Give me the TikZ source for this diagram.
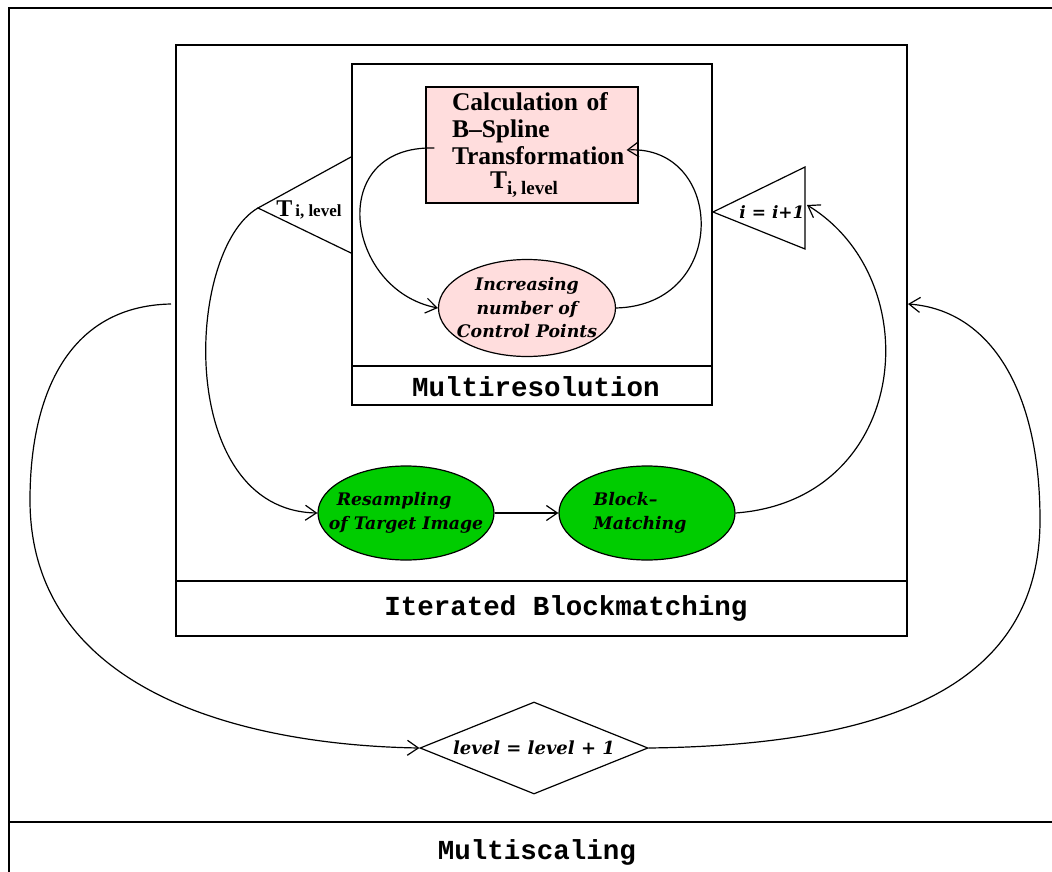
\documentclass[tikz,border=0pt]{standalone}
\usepackage{fontspec}
\setmainfont{Liberation Serif}
\newfontfamily\dvserif{DejaVu Serif}
\newfontfamily\monofnt{Liberation Mono}
\usetikzlibrary{shapes.geometric,arrows.meta,calc}
\definecolor{pinkfill}{RGB}{255,221,221}
\definecolor{greenfill}{RGB}{0,204,0}
\begin{document}
\begin{tikzpicture}[x=1pt,y=-1pt,line width=1.2pt,
  frame/.style={line width=1.4pt},
  conn/.style={-{Straight Barb[length=11pt,width=15pt]}},
  monolabel/.style={font=\monofnt\bfseries\fontsize{27.5}{30}\selectfont, inner sep=0},
  ovaltext/.style={font=\dvserif\bfseries\itshape\fontsize{17.3}{23.5}\selectfont},
  pinkoval/.style={ellipse, draw, fill=pinkfill, minimum width=177pt, minimum height=97pt, inner xsep=-25pt, inner ysep=-15pt, ovaltext, align=center},
  greenoval/.style={ellipse, draw, fill=greenfill, minimum width=176pt, minimum height=94pt, inner xsep=-25pt, inner ysep=-15pt, ovaltext, align=left}
]
\useasboundingbox (0,0) rectangle (1052,872);
\clip (0,0) rectangle (1052,872);
% outer frame: Multiscaling
\draw[line width=1.5pt] (9,8) rectangle (1070,890);
\draw[line width=2.6pt] (9,822) -- (1070,822);
\node[monolabel] (msc) at (537,852) {Multiscaling};
% Iterated Blockmatching box
\draw[frame] (176,45) rectangle (907,636);
\draw[frame] (176,581) -- (907,581);
\node[monolabel] (ibl) at (566,608) {Iterated Blockmatching};
% Multiresolution box
\draw[frame] (352,64) rectangle (712,405);
\draw[frame] (352,366) -- (712,366);
\node[monolabel] (mrl) at (536,387) {Multiresolution};
% B-spline rectangle
\node[draw, fill=pinkfill, minimum width=212pt, minimum height=116pt, inner sep=0pt,
      text width=212pt, align=left, font=\bfseries\fontsize{25.5}{27}\selectfont] (bspl) at (532,145)
  {\hspace*{26pt}Calculation of\\\hspace*{26pt}B–Spline\\\hspace*{26pt}Transformation\\[-3pt]\hspace*{64pt}T\raisebox{-6pt}{\fontsize{19}{19}\selectfont i,\hspace{4pt}level}};
% increasing ellipse
\node[pinkoval] (incr) at (527,308) {Increasing\\number of\\Control Points};
% green ellipses
\node[greenoval] (resamp) at (406,513) {\hspace*{8pt}Resampling\\of Target Image};
\node[greenoval] (block) at (647,513) {Block–\\Matching\hspace*{14pt}};
% diamond
\node[diamond, draw, aspect=2.5, minimum width=228pt, minimum height=92pt, inner sep=0,
      font=\dvserif\bfseries\itshape\fontsize{18}{18}\selectfont] (dia) at (534,748) {level = level + 1};
% left triangle
\coordinate (tlA) at (258,208);
\draw (351,157) -- (tlA) -- (351,253);
\node[font=\bfseries, inner sep=0] (tlab) at (309,210) {{\fontsize{24}{24}\selectfont T}{\fontsize{17}{17}\selectfont\,i, level}};
% right triangle
\coordinate (trR) at (807,205);
\draw (713,212) -- (805,167) -- (805,249) -- cycle;
\node[font=\dvserif\bfseries\itshape\fontsize{17}{17}\selectfont, inner sep=0] (trlab) at (772,212) {i = i+1};
% edge coordinates
\coordinate (ibL) at (171,304);
\coordinate (ibR) at (908,304);
% connectors
\draw[conn] ($(bspl.west)+(9,3)$) .. controls (325,145) and (345,290) .. (incr.west);
\draw[conn] (incr.east) .. controls (730,305) and (725,145) .. ($(bspl.east)+(-12,5)$);
\draw[conn] (tlA) .. controls (185,250) and (175,510) .. (resamp.west);
\draw[conn] (resamp.east) -- (block.west);
\draw[conn] (block.east) .. controls (910,500) and (930,280) .. (trR);
\draw[conn] (ibL) .. controls (65,306) and (30,400) .. (30,500) .. controls (30,690) and (240,745) .. (dia.west);
\draw[conn] (dia.east) .. controls (900,745) and (1040,680) .. (1040,520) .. controls (1040,390) and (990,310) .. (ibR);
\end{tikzpicture}
\end{document}
